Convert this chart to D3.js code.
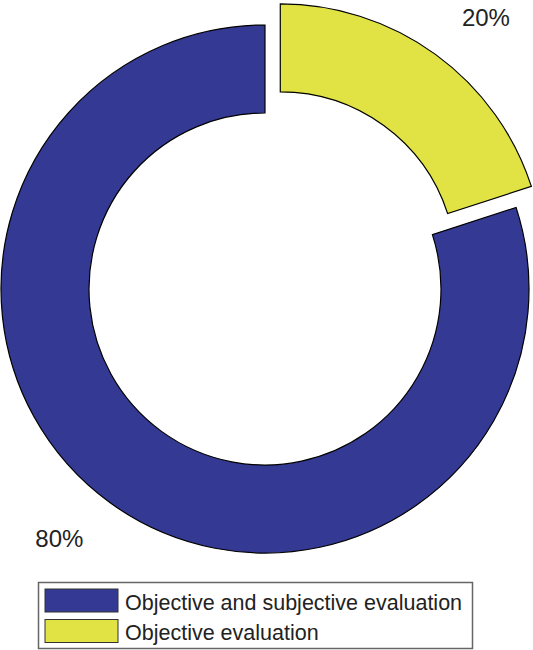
<!DOCTYPE html>
<html>
	<head>
		<title>Evaluation Donut</title>
		<style type="text/css">
			body {
				margin: 0px;
				background-color: #fff;
			}
			text {
				font-family: "Liberation Sans", Arial, sans-serif;
				fill: #222;
			}
		</style>
		<script src="https://cdn.jsdelivr.net/npm/d3@7"></script>
	</head>
	<body>
		<script type="text/javascript">
			var categories = ["Objective and subjective evaluation", "Objective evaluation"];
			var values = [80, 20];
			var explode = [0, 1];
			var colors = ["#343994", "#e1e344"];

			var width = 533, height = 650;
			var cx = 265, cy = 289;
			var outerR = 264, innerR = 176;
			var explodeDist = 26;
			var labelR = 309;

			var svg = d3.select("body").append("svg")
				.attr("width", width)
				.attr("height", height);

			var total = d3.sum(values);
			// first slice starts where the exploded one ends
			var pie = d3.pie().sort(null)
				.startAngle(2 * Math.PI * values[1] / total)
				.endAngle(2 * Math.PI * (1 + values[1] / total));
			var arcs = pie(values);
			var arc = d3.arc().innerRadius(innerR).outerRadius(outerR);

			function offset(d, r) {
				var a = (d.startAngle + d.endAngle) / 2;
				return [Math.sin(a) * r, -Math.cos(a) * r];
			}

			var g = svg.append("g").attr("transform", "translate(" + cx + "," + cy + ")");

			var slice = g.selectAll(".slice")
				.data(arcs)
				.enter()
					.append("g")
					.attr("class", "slice")
					.attr("transform", function(d, i) {
						var o = offset(d, explode[i] * explodeDist);
						return "translate(" + o[0] + "," + o[1] + ")";
					});

			slice.append("path")
				.attr("d", arc)
				.style("fill", function(d, i) { return colors[i]; })
				.style("stroke", "#000")
				.style("stroke-width", 1.2)
				.style("stroke-linejoin", "miter");

			// labels hang off the outside like matlab: left side right-aligned
			slice.append("text")
				.attr("x", function(d) { return offset(d, labelR)[0]; })
				.attr("y", function(d) { return offset(d, labelR)[1]; })
				.attr("text-anchor", function(d) {
					return offset(d, 1)[0] < 0 ? "end" : "start";
				})
				.attr("dominant-baseline", "central")
				.style("font-size", "24px")
				.text(function(d) { return Math.round(d.value / total * 100) + "%"; });

			// legend
			var legend = svg.append("g");
			legend.append("rect")
				.attr("x", 38.5)
				.attr("y", 582.5)
				.attr("width", 434)
				.attr("height", 66)
				.style("fill", "#fff")
				.style("stroke", "#666")
				.style("stroke-width", 1.5);

			var item = legend.selectAll(".item")
				.data(categories)
				.enter()
					.append("g")
					.attr("class", "item")
					.attr("transform", function(d, i) {
						return "translate(45," + (589 + i * 30.5) + ")";
					});
			item.append("rect")
				.attr("width", 73)
				.attr("height", 23)
				.style("fill", function(d, i) { return colors[i]; })
				.style("stroke", "#333")
				.style("stroke-width", 1);
			item.append("text")
				.attr("x", 80)
				.attr("y", 20.5)
				.style("font-size", "21.5px")
				.text(function(d) { return d; });
		</script>
	</body>
</html>
